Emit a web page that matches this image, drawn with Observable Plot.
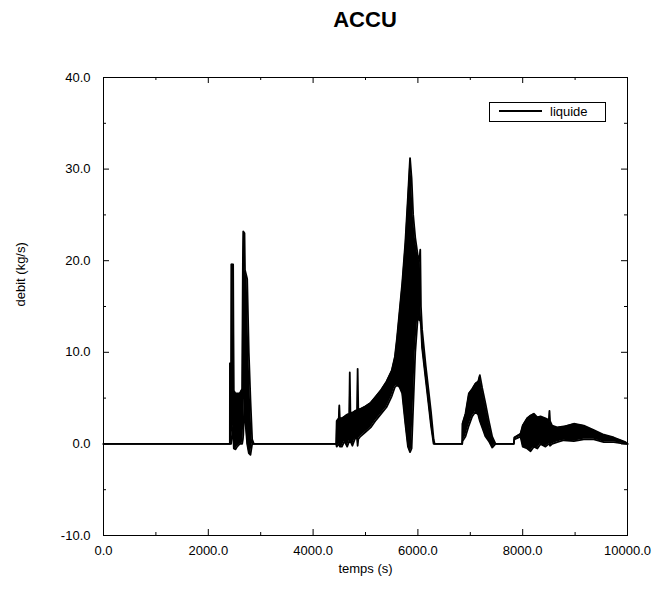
<!DOCTYPE html>
<html>
<head>
<meta charset="utf-8">
<script src="https://cdn.jsdelivr.net/npm/d3@7"></script>
<script src="https://cdn.jsdelivr.net/npm/@observablehq/plot@0.6"></script>
<style>
  body { margin: 0; background: #fff; font-family: "Liberation Sans", Arial, Helvetica, sans-serif; }
  #wrap { position: relative; width: 660px; height: 590px; }
  #title { position: absolute; left: 103px; width: 524px; top: 9px; line-height: 22px; font-size: 22px; font-weight: bold; text-align: center; color: #000; }
  #chart { position: absolute; left: 0; top: 40px; }
  #legend { position: absolute; left: 489px; top: 102px; width: 115px; height: 18px; border: 1px solid #000; background: #fff; }
  #legend .sw { position: absolute; left: 9px; top: 7px; width: 43px; height: 0; border-top: 2px solid #000; }
  #legend .lb { position: absolute; left: 60px; top: 0px; line-height: 18px; font-size: 13px; color: #000; }
</style>
</head>
<body>
<div id="wrap">
  <div id="title"></div>
  <div id="chart"></div>
  <div id="legend"><div class="sw"></div><div class="lb"></div></div>
</div>
<script>
const chartTitle = "ACCU";
const seriesName = "liquide";
const xLabel = "temps (s)";
const yLabel = "debit (kg/s)";

const xTicks = [0, 2000, 4000, 6000, 8000, 10000];
const xTickLabels = ["0.0", "2000.0", "4000.0", "6000.0", "8000.0", "10000.0"];
const xMinor = [1000, 3000, 5000, 7000, 9000];
const yTicks = [-10, 0, 10, 20, 30, 40];
const yTickLabels = ["-10.0", "0.0", "10.0", "20.0", "30.0", "40.0"];
const yMinor = [-5, 5, 15, 25, 35];

// time (s) and envelope of the oscillating flow (kg/s)
const time = [
  0, 2400, 2411, 2413, 2436, 2440, 2474, 2480, 2487, 2520, 2551, 2600, 2646, 2660, 2668, 2691, 2700, 2742, 2773, 2805, 2837, 2868,
  4440, 4450, 4490, 4500, 4510, 4550, 4600, 4650, 4690, 4700, 4712, 4750, 4800, 4840, 4850, 4862, 4900, 5000, 5100, 5200, 5300, 5400, 5500, 5560, 5600, 5650, 5700, 5760, 5810, 5850, 5880, 5910, 5950, 6000, 6030, 6045, 6058, 6080, 6150, 6200, 6250, 6300, 6320,
  6845, 6850, 6908, 6972, 7036, 7099, 7150, 7182, 7227, 7290, 7354, 7418, 7481,
  7830, 7840, 7958, 8000, 8085, 8150, 8213, 8280, 8340, 8435, 8500, 8511, 8522, 8562, 8658, 8785, 8976, 9166, 9357, 9548, 9739, 9962, 10000
];
const upper = [
  0, 0, 0, 8.8, 8.8, 19.6, 19.6, 12, 5.8, 5.5, 5.5, 5.5, 6, 20, 23.2, 23, 19, 18, 10, 4.8, 0.5, 0,
  0, 2.5, 2.8, 4.2, 2.8, 2.8, 3.0, 3.2, 3.3, 7.8, 3.4, 3.4, 3.6, 3.7, 8.2, 3.8, 3.8, 4.1, 4.5, 5.2, 5.9, 6.8, 8.0, 9.5, 11.5, 14.5, 17.5, 22, 27, 31.2, 29, 25, 22.5, 20.5, 20, 21.2, 15, 12.5, 8.5, 6, 3.5, 0.5, 0,
  0, 2.2, 3.3, 5.5, 6.0, 6.6, 6.8, 7.5, 6.1, 4.4, 2.5, 0.8, 0,
  0, 0.7, 1.1, 2.0, 2.8, 3.1, 3.3, 2.9, 3.0, 2.8, 2.6, 3.6, 2.5, 2.0, 1.8, 1.9, 2.2, 2.0, 1.5, 1.0, 0.7, 0.2, 0
];
const lower = [
  0, 0, 0, 0, 0, 0.3, 2, 0.5, -0.5, -0.6, -0.3, 0, 0, 0.5, 1, 5, 3, 0, -1, -1.2, 0, 0,
  0, -0.3, 0, 0, -0.3, -0.3, 0.3, -0.3, 0.3, 0.5, 0.3, -0.2, 0.6, 0.6, -0.2, 0.5, 0.8, 1.3, 1.8, 2.6, 3.3, 4.0, 5.2, 6.2, 6.4, 6.2, 5.5, 2.2, -0.3, -0.9, -0.5, 4, 10, 14, 13.5, 13.5, 13, 10.5, 7, 4.5, 2, 0, 0,
  0, 0.3, 0.8, 2, 3.0, 3.5, 3.2, 2.5, 1.8, 0.8, 0.3, -0.4, 0,
  0, 0.5, 0.8, -0.3, -0.5, -0.8, -0.3, -0.5, 0, -0.3, 0, 0, -0.2, 0, 0.2, 0.4, 0.3, 0.5, 0.5, 0.2, 0.2, 0, 0
];

const data = time.map((t, i) => ({t, hi: upper[i], lo: lower[i]}));

const W = 660, H = 550, mT = 37, mB = 55, mL = 103, mR = 33;
const FW = W - mL - mR, FH = H - mT - mB;
const major = 6, minor = 3;
const font = "'Liberation Sans', Arial, Helvetica, sans-serif";

document.getElementById("title").textContent = chartTitle;
document.querySelector("#legend .lb").textContent = seriesName;

const xFmt = d => xTickLabels[xTicks.indexOf(d)];
const yFmt = d => yTickLabels[yTicks.indexOf(d)];

const plot = Plot.plot({
  width: W, height: H,
  marginTop: mT, marginBottom: mB, marginLeft: mL, marginRight: mR,
  style: {fontFamily: font, fontSize: "13px", color: "#000", background: "#fff"},
  x: {domain: [0, 10000]},
  y: {domain: [-10, 40]},
  marks: [
    Plot.areaY(data, {x: "t", y1: "lo", y2: "hi", fill: "#000"}),
    Plot.line(data, {x: "t", y: "hi", stroke: "#000", strokeWidth: 1.8}),
    Plot.line(data, {x: "t", y: "lo", stroke: "#000", strokeWidth: 1.8}),
    Plot.frame({stroke: "#000", strokeWidth: 1}),
    // inward ticks on all four sides
    Plot.tickX(xTicks, {x: d => d, insetTop: FH - major, stroke: "#000"}),
    Plot.tickX(xTicks, {x: d => d, insetBottom: FH - major, stroke: "#000"}),
    Plot.tickX(xMinor, {x: d => d, insetTop: FH - minor, stroke: "#000"}),
    Plot.tickX(xMinor, {x: d => d, insetBottom: FH - minor, stroke: "#000"}),
    Plot.tickY(yTicks, {y: d => d, insetRight: FW - major, stroke: "#000"}),
    Plot.tickY(yTicks, {y: d => d, insetLeft: FW - major, stroke: "#000"}),
    Plot.tickY(yMinor, {y: d => d, insetRight: FW - minor, stroke: "#000"}),
    Plot.tickY(yMinor, {y: d => d, insetLeft: FW - minor, stroke: "#000"}),
    Plot.axisX(xTicks, {anchor: "bottom", tickSize: 0, tickPadding: 10, tickFormat: xFmt, label: null, fontSize: 13, fill: "#000"}),
    Plot.axisY(yTicks, {anchor: "left", tickSize: 0, tickPadding: 13, tickFormat: yFmt, label: null, fontSize: 13, fill: "#000"}),
    Plot.text([xLabel], {frameAnchor: "bottom", dy: 37, fontSize: 13, fill: "#000"}),
    Plot.text([yLabel], {frameAnchor: "left", dx: -83, rotate: -90, fontSize: 13, fill: "#000"})
  ]
});
document.getElementById("chart").appendChild(plot);
</script>
</body>
</html>
